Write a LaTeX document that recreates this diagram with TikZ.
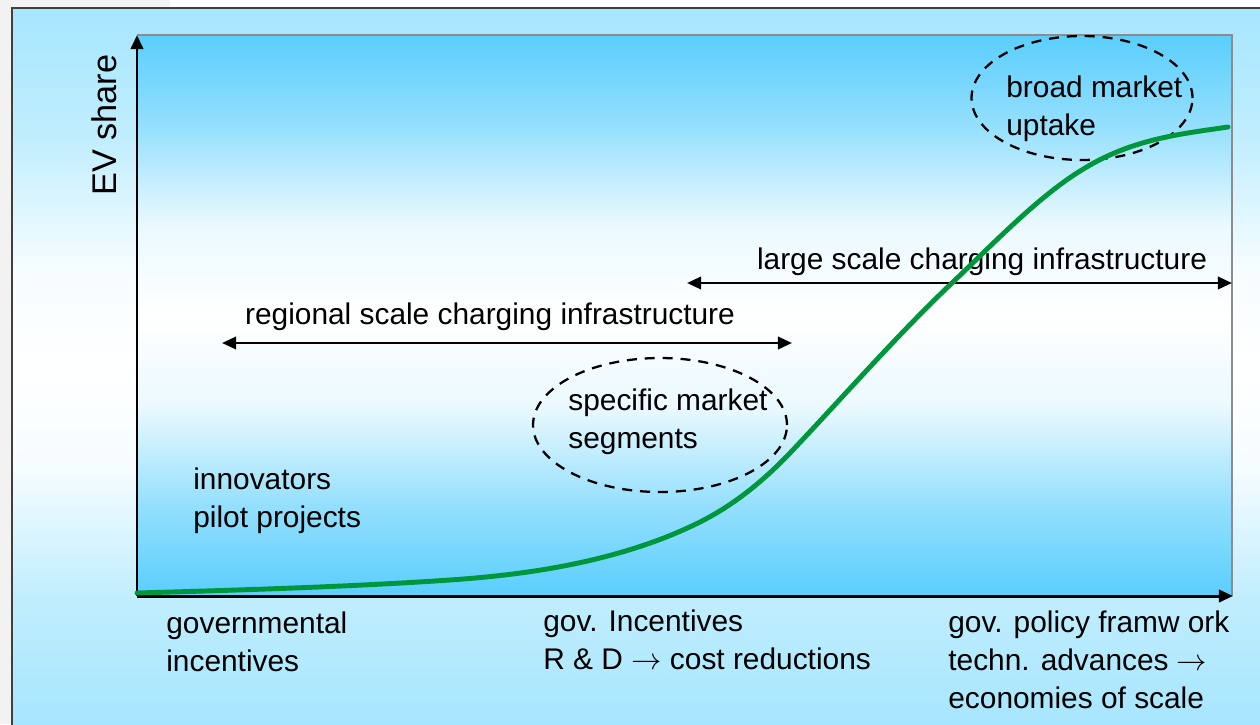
\documentclass[tikz,border=0pt]{standalone}
\usepackage{fontspec}
\setmainfont{Liberation Sans}
\usetikzlibrary{arrows.meta,shapes.geometric}

\definecolor{outerblue}{HTML}{A6E6FE}
\definecolor{innerblue}{HTML}{5ACEFC}
\definecolor{curvegreen}{RGB}{0,150,60}
\definecolor{framegrey}{HTML}{8C8C8C}
\definecolor{pagegrey}{HTML}{F2F2F2}

\pgfdeclareverticalshading{plotfade}{100bp}{color(0bp)=(innerblue); color(25bp)=(innerblue);
  color(33bp)=(innerblue!65!white); color(42bp)=(innerblue!12!white); color(50bp)=(white);
  color(58bp)=(innerblue!12!white); color(67bp)=(innerblue!65!white); color(75bp)=(innerblue); color(100bp)=(innerblue)}
\pgfdeclareverticalshading{panelfade}{100bp}{color(0bp)=(outerblue); color(25bp)=(outerblue);
  color(34bp)=(outerblue!70!white); color(43bp)=(outerblue!10!white); color(50bp)=(white);
  color(57bp)=(outerblue!10!white); color(66bp)=(outerblue!70!white); color(75bp)=(outerblue); color(100bp)=(outerblue)}

\tikzset{
  lbl/.style={inner sep=0pt, align=left, anchor=west, font=\fontsize{17}{21.5}\selectfont},
  spanarrow/.style={{Triangle[length=8pt,width=7pt]}-{Triangle[length=8pt,width=7pt]}, line width=1.5pt},
  axisline/.style={-{Triangle[length=8pt,width=7pt]}, line width=1.7pt},
  zone/.style={ellipse, draw, line width=1.3pt, dash pattern=on 5.7pt off 4.5pt, inner sep=0pt, outer sep=0pt}
}

\begin{document}
\begin{tikzpicture}[x=0.02cm,y=-0.02cm]
        \useasboundingbox (0,0) rectangle (1260,724);
        \fill[white] (0,0) rectangle (1260,724);
        \fill[pagegrey] (0,0) rectangle (12,724);
        \fill[pagegrey] (0,0) rectangle (170,8);
        % outer panel
        \shade[shading=panelfade] (12,8) rectangle (1262,726);
        \draw[black!75, line width=0.9pt] (12,726) -- (12,8) -- (1262,8);
        % plot area
        \shade[shading=plotfade] (137,35) rectangle (1232,596);
        \draw[framegrey, line width=1.2pt] (137,35) -- (1232,35) -- (1232,596);

        \coordinate (origin) at (137,596);
        \coordinate (ytip) at (137,35);
        \coordinate (xtip) at (1233,596);
        \draw[axisline] (origin) -- (ytip);
        \draw[axisline] (origin) -- (xtip);
        \node (evshare) [lbl, anchor=center, rotate=90, font=\fontsize{19.5}{23}\selectfont] at (104,125) {EV share};

        % charging infrastructure
        \coordinate (regL) at (222,343);
        \coordinate (regR) at (792,343);
        \draw[spanarrow] (regL) -- (regR);
        \node (regional) [lbl, anchor=center] at (490,317) {regional scale charging infrastructure};
        \coordinate (larL) at (687,283);
        \coordinate (larR) at (1232,283);
        \draw[spanarrow] (larL) -- (larR);
        \node (large) [lbl, anchor=center] at (982,262) {large scale charging infrastructure};

        % market phases
        \node (segzone) [zone, minimum width=5.08cm, minimum height=2.68cm] at (660,425) {};
        \node (segtext) [lbl] at (568,422) {specific market\\segments};
        \node (uptzone) [zone, minimum width=4.42cm, minimum height=2.48cm] at (1082,98) {};
        \node (upttext) [lbl] at (1006,109) {broad market\\uptake};
        \node (innov) [lbl] at (193,501) {innovators\\pilot projects};

        % adoption curve
        \draw[curvegreen, line width=2.8pt, line cap=round] (137,593)
          .. controls (241,590) and (346,587) .. (450,580)
          .. controls (500,576.5) and (550,570.5) .. (600,558)
          .. controls (633,549.7) and (667,538.5) .. (700,522)
          .. controls (730,507) and (760,484.5) .. (790,453)
          .. controls (844,396) and (899,333) .. (953,282)
          .. controls (997,240) and (1041,194) .. (1085,168)
          .. controls (1133,139) and (1180,134) .. (1228,127);

        % policy stages
        \node (stage1) [lbl] at (166,642) {governmental\\incentives};
        \node (stage2) [lbl] at (543,640) {gov. Incentives\\R \& D $\rightarrow$ cost reductions};
        \node (stage3) [lbl] at (948,660) {gov. policy framw ork\\techn. advances $\rightarrow$\\economies of scale};
      \end{tikzpicture}
\end{document}
